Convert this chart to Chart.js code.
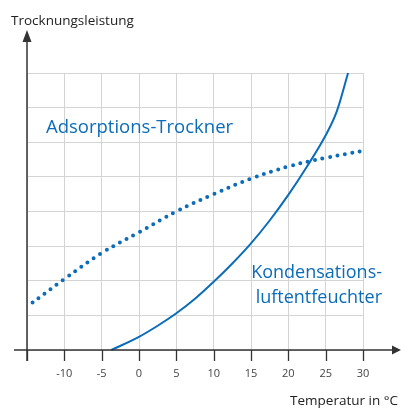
<!DOCTYPE html>
<html>
<head>
<meta charset="utf-8">
<script src="https://cdn.jsdelivr.net/npm/chart.js@4/dist/chart.umd.min.js"></script>
<style>
  html, body { margin: 0; padding: 0; background: #fff; }
  #wrap { width: 401px; height: 408px; position: relative; }
</style>
</head>
<body>
<div id="wrap"><canvas id="chart" width="401" height="408"></canvas></div>
<script>
// x axis: temperature in °C
const xTicks = [-15, -10, -5, 0, 5, 10, 15, 20, 25, 30];

// Adsorptions-Trockner (dotted)
const adsTemp = [-15, -10, -5, 0, 5, 10, 15, 20, 25, 30];
const adsValue = [1.25, 2.05, 2.8, 3.4, 4.0, 4.5, 4.95, 5.3, 5.55, 5.75];

// Kondensations-luftentfeuchter (solid)
const kondTemp = [-3.7, 0, 2.5, 5, 7.5, 10, 12.5, 15, 17.5, 20, 22.5, 25, 26.5, 28];
const kondValue = [0, 0.38, 0.7, 1.06, 1.48, 1.97, 2.5, 3.08, 3.74, 4.48, 5.3, 6.2, 6.9, 8];

const blue = '#0b6cb9';
const axisColor = '#333333';
const font = '"Open Sans", sans-serif';

const toPoints = (xs, ys) => xs.map((x, i) => ({ x: x, y: ys[i] }));

// axes with arrows, ticks and free labels
const decor = {
  id: 'decor',
  afterDraw(chart) {
    const ctx = chart.ctx;
    const xs = chart.scales.x, ys = chart.scales.y;
    const y0 = ys.getPixelForValue(0);
    const x0 = xs.getPixelForValue(-15);
    ctx.save();
    ctx.strokeStyle = axisColor;
    ctx.fillStyle = axisColor;
    ctx.lineWidth = 1.5;
    // x axis
    ctx.beginPath();
    ctx.moveTo(14, y0);
    ctx.lineTo(394, y0);
    ctx.stroke();
    ctx.beginPath();
    ctx.moveTo(401, y0);
    ctx.lineTo(392, y0 - 4.5);
    ctx.lineTo(392, y0 + 4.5);
    ctx.closePath();
    ctx.fill();
    // y axis
    ctx.beginPath();
    ctx.moveTo(x0, 361);
    ctx.lineTo(x0, 40);
    ctx.stroke();
    ctx.beginPath();
    ctx.moveTo(x0, 30);
    ctx.lineTo(x0 - 4.5, 42);
    ctx.lineTo(x0 + 4.5, 42);
    ctx.closePath();
    ctx.fill();
    // tick marks
    ctx.lineWidth = 1.3;
    xTicks.forEach(v => {
      const px = Math.round(xs.getPixelForValue(v)) + 0.5;
      ctx.beginPath();
      ctx.moveTo(px, y0);
      ctx.lineTo(px, 361);
      ctx.stroke();
    });
    // axis titles
    ctx.fillStyle = '#222';
    ctx.font = '13.5px ' + font;
    ctx.textBaseline = 'alphabetic';
    ctx.textAlign = 'left';
    ctx.fillText('Trocknungsleistung', 11, 25);
    ctx.textAlign = 'right';
    ctx.fillText('Temperatur in °C', 398, 405);
    // series labels
    ctx.fillStyle = blue;
    ctx.font = '18.5px ' + font;
    ctx.textAlign = 'left';
    ctx.fillText('Adsorptions-Trockner', 46, 133);
    ctx.textAlign = 'right';
    ctx.font = '18px ' + font;
    ctx.fillText('Kondensations-', 382, 278);
    ctx.fillText('luftentfeuchter', 382, 303);
    ctx.restore();
  }
};

new Chart(document.getElementById('chart'), {
  type: 'line',
  data: {
    datasets: [
      {
        label: 'Adsorptions-Trockner',
        data: toPoints(adsTemp, adsValue),
        borderColor: blue,
        borderWidth: 4,
        borderDash: [0, 7.6],
        borderDashOffset: 1,
        borderCapStyle: 'round',
        tension: 0.4,
        pointRadius: 0,
        fill: false
      },
      {
        label: 'Kondensations-luftentfeuchter',
        data: toPoints(kondTemp, kondValue),
        borderColor: blue,
        borderWidth: 2,
        cubicInterpolationMode: 'monotone',
        pointRadius: 0,
        fill: false
      }
    ]
  },
  options: {
    responsive: false,
    animation: false,
    clip: false,
    layout: { padding: { left: 27, right: 38, top: 73, bottom: 28 } },
    plugins: { legend: { display: false }, tooltip: { enabled: false } },
    scales: {
      x: {
        type: 'linear',
        min: -15,
        max: 30,
        afterBuildTicks: s => { s.ticks = xTicks.map(v => ({ value: v })); },
        afterFit: s => { s.height = 30; },
        grid: { color: '#d4d4d4', lineWidth: 1, drawTicks: false },
        border: { display: false },
        ticks: {
          padding: 17,
          color: '#444',
          font: { family: font, size: 11 },
          callback: v => (v === -15 ? '' : v)
        }
      },
      y: {
        min: 0,
        max: 8,
        afterFit: s => { s.width = 0; },
        grid: { color: '#d4d4d4', lineWidth: 1, drawTicks: false },
        border: { display: false },
        ticks: { display: false, stepSize: 1 }
      }
    }
  },
  plugins: [decor]
});
</script>
</body>
</html>
